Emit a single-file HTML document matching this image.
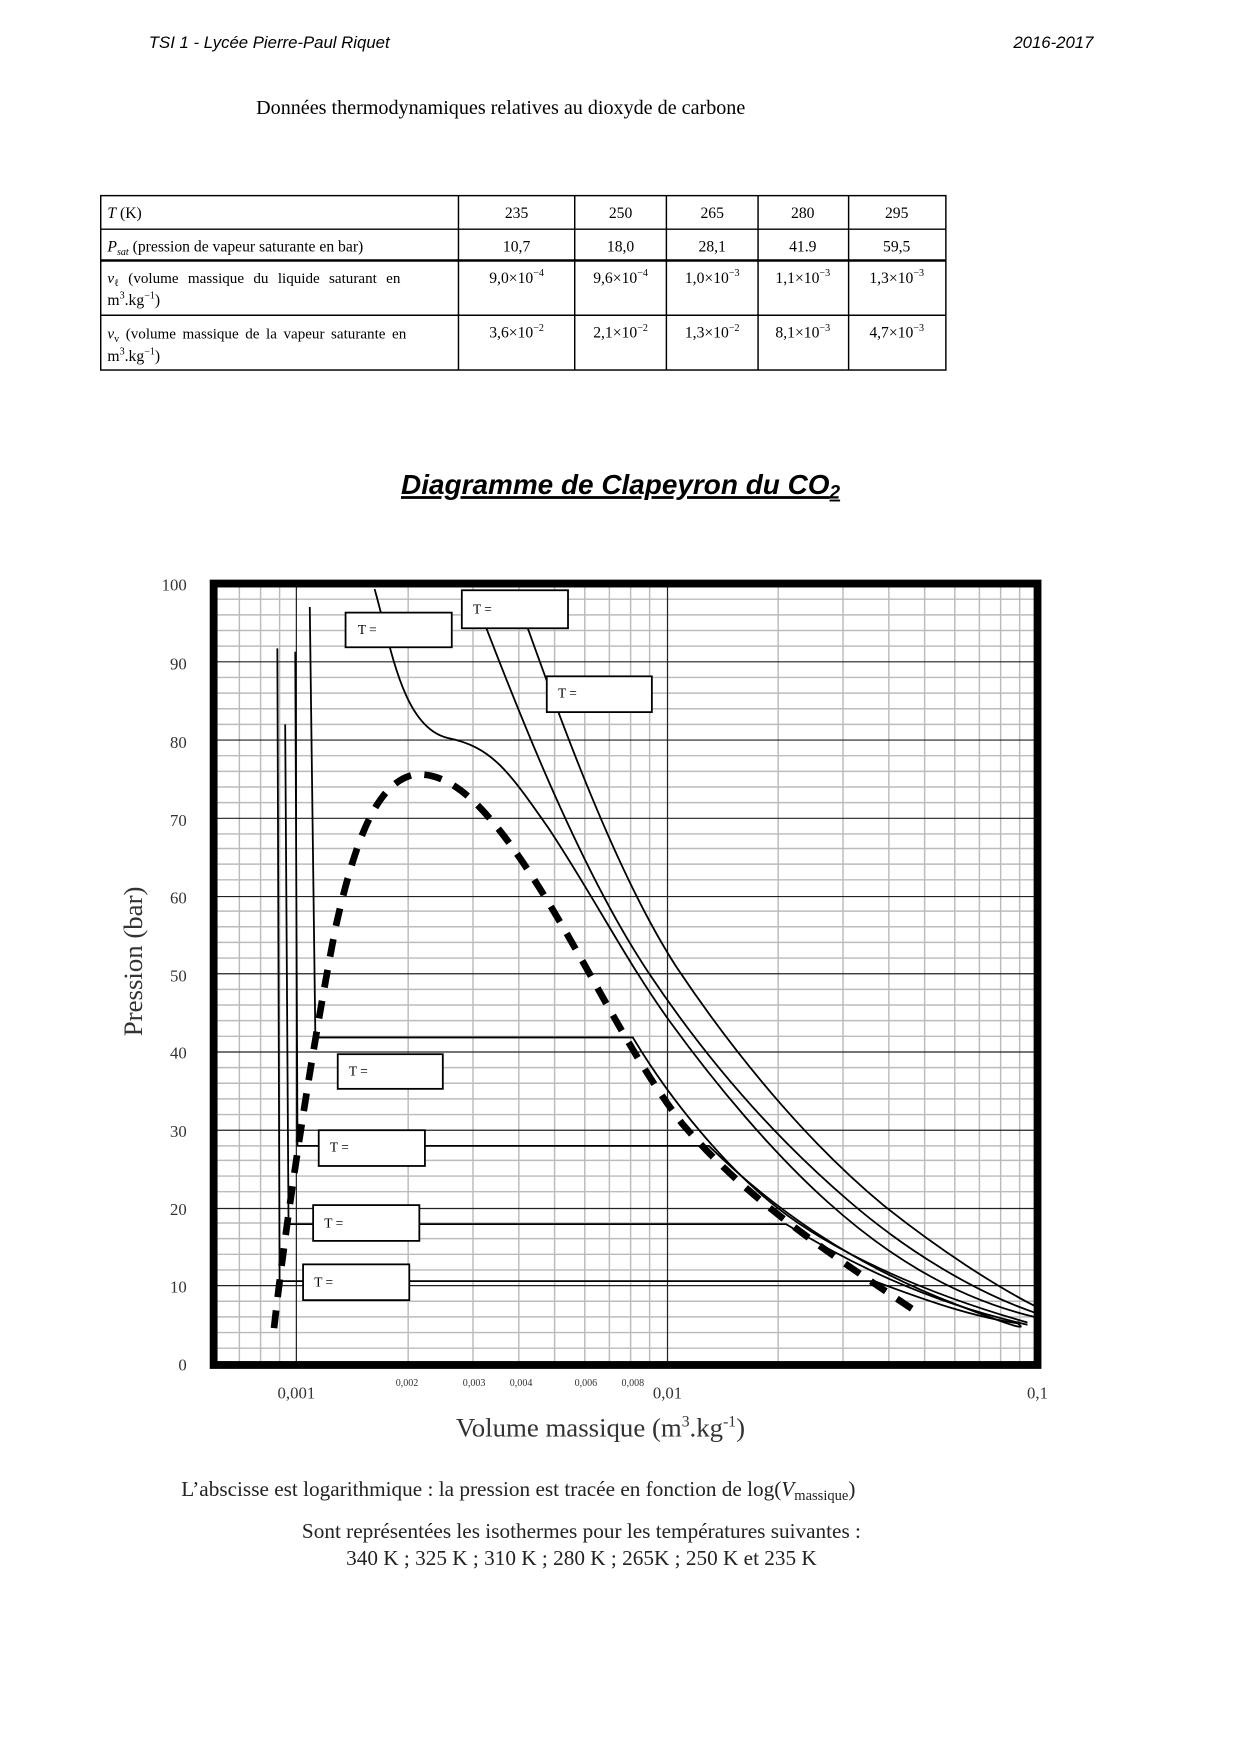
<!DOCTYPE html>
<html><head><meta charset="utf-8"><style>
html,body{margin:0;padding:0;background:#fff}
svg{display:block}
</style></head><body>
<svg width="1240" height="1754" viewBox="0 0 1109 1569" xmlns="http://www.w3.org/2000/svg">
<rect width="1109" height="1569" fill="#fff"/>
<g font-family="Liberation Sans, sans-serif" font-style="italic" font-size="15">
<text x="133" y="43">TSI 1 - Lycée Pierre-Paul Riquet</text>
<text x="978" y="43" text-anchor="end">2016-2017</text>
</g>
<text x="229" y="102" font-family="Liberation Serif, serif" font-size="18">Données thermodynamiques relatives au dioxyde de carbone</text>
<!-- table -->
<g stroke="#000" stroke-width="1.3" fill="none">
<rect x="90" y="175" width="756" height="156"/>
<line x1="90" y1="205" x2="846" y2="205"/>
<line x1="90" y1="233" x2="846" y2="233" stroke-width="2.2"/>
<line x1="90" y1="282" x2="846" y2="282"/>
<line x1="410" y1="175" x2="410" y2="331"/>
<line x1="514" y1="175" x2="514" y2="331"/>
<line x1="596" y1="175" x2="596" y2="331"/>
<line x1="678" y1="175" x2="678" y2="331"/>
<line x1="759" y1="175" x2="759" y2="331"/>
</g>
<g font-family="Liberation Serif, serif" font-size="14">
<text x="96" y="195"><tspan font-style="italic">T</tspan> (K)</text>
<text x="96" y="225"><tspan font-style="italic">P</tspan><tspan font-size="9" font-style="italic" dy="3">sat</tspan><tspan dy="-3"> (pression de vapeur saturante en bar)</tspan></text>
<text x="96" y="253" font-size="13.5" word-spacing="5"><tspan font-style="italic">v</tspan><tspan font-size="9" dy="3">ℓ</tspan><tspan dy="-3"> (volume massique du liquide saturant en</tspan></text>
<text x="96" y="273">m<tspan font-size="9" dy="-6">3</tspan><tspan dy="6">.kg</tspan><tspan font-size="9" dy="-6">−1</tspan><tspan dy="6">)</tspan></text>
<text x="96" y="303" font-size="13.5" word-spacing="2.5"><tspan font-style="italic">v</tspan><tspan font-size="9" dy="3">v</tspan><tspan dy="-3"> (volume massique de la vapeur saturante en</tspan></text>
<text x="96" y="323">m<tspan font-size="9" dy="-6">3</tspan><tspan dy="6">.kg</tspan><tspan font-size="9" dy="-6">−1</tspan><tspan dy="6">)</tspan></text>
<g text-anchor="middle">
<text x="462" y="195">235</text><text x="555" y="195">250</text><text x="637" y="195">265</text><text x="718" y="195">280</text><text x="802" y="195">295</text>
<text x="462" y="225">10,7</text><text x="555" y="225">18,0</text><text x="637" y="225">28,1</text><text x="718" y="225">41.9</text><text x="802" y="225">59,5</text>
<text x="462" y="253">9,0×10<tspan font-size="9" dy="-6">−4</tspan></text>
<text x="555" y="253">9,6×10<tspan font-size="9" dy="-6">−4</tspan></text>
<text x="637" y="253">1,0×10<tspan font-size="9" dy="-6">−3</tspan></text>
<text x="718" y="253">1,1×10<tspan font-size="9" dy="-6">−3</tspan></text>
<text x="802" y="253">1,3×10<tspan font-size="9" dy="-6">−3</tspan></text>
<text x="462" y="302">3,6×10<tspan font-size="9" dy="-6">−2</tspan></text>
<text x="555" y="302">2,1×10<tspan font-size="9" dy="-6">−2</tspan></text>
<text x="637" y="302">1,3×10<tspan font-size="9" dy="-6">−2</tspan></text>
<text x="718" y="302">8,1×10<tspan font-size="9" dy="-6">−3</tspan></text>
<text x="802" y="302">4,7×10<tspan font-size="9" dy="-6">−3</tspan></text>
</g></g>
<!-- title -->
<text x="555" y="442" text-anchor="middle" font-family="Liberation Sans, sans-serif" font-style="italic" font-weight="bold" font-size="25" text-decoration="underline">Diagramme de Clapeyron du CO<tspan font-size="17" dy="4">2</tspan></text>
<!-- grid -->
<g stroke="#bbb" stroke-width="1.3">
<line x1="214" y1="523" x2="214" y2="1220"/><line x1="233" y1="523" x2="233" y2="1220"/><line x1="250" y1="523" x2="250" y2="1220"/>
<line x1="365" y1="523" x2="365" y2="1220"/><line x1="423" y1="523" x2="423" y2="1220"/><line x1="464" y1="523" x2="464" y2="1220"/><line x1="496" y1="523" x2="496" y2="1220"/><line x1="523" y1="523" x2="523" y2="1220"/><line x1="545" y1="523" x2="545" y2="1220"/><line x1="564" y1="523" x2="564" y2="1220"/><line x1="581" y1="523" x2="581" y2="1220"/>
<line x1="696" y1="523" x2="696" y2="1220"/><line x1="754" y1="523" x2="754" y2="1220"/><line x1="795" y1="523" x2="795" y2="1220"/><line x1="827" y1="523" x2="827" y2="1220"/><line x1="854" y1="523" x2="854" y2="1220"/><line x1="876" y1="523" x2="876" y2="1220"/><line x1="895" y1="523" x2="895" y2="1220"/><line x1="912" y1="523" x2="912" y2="1220"/>
<line x1="190" y1="1206" x2="928" y2="1206"/><line x1="190" y1="1192" x2="928" y2="1192"/><line x1="190" y1="1178" x2="928" y2="1178"/><line x1="190" y1="1164" x2="928" y2="1164"/>
<line x1="190" y1="1136" x2="928" y2="1136"/><line x1="190" y1="1122" x2="928" y2="1122"/><line x1="190" y1="1108" x2="928" y2="1108"/><line x1="190" y1="1094" x2="928" y2="1094"/>
<line x1="190" y1="1066" x2="928" y2="1066"/><line x1="190" y1="1052" x2="928" y2="1052"/><line x1="190" y1="1038" x2="928" y2="1038"/><line x1="190" y1="1025" x2="928" y2="1025"/>
<line x1="190" y1="997" x2="928" y2="997"/><line x1="190" y1="983" x2="928" y2="983"/><line x1="190" y1="969" x2="928" y2="969"/><line x1="190" y1="955" x2="928" y2="955"/>
<line x1="190" y1="927" x2="928" y2="927"/><line x1="190" y1="913" x2="928" y2="913"/><line x1="190" y1="899" x2="928" y2="899"/><line x1="190" y1="885" x2="928" y2="885"/>
<line x1="190" y1="857" x2="928" y2="857"/><line x1="190" y1="843" x2="928" y2="843"/><line x1="190" y1="829" x2="928" y2="829"/><line x1="190" y1="815" x2="928" y2="815"/>
<line x1="190" y1="787" x2="928" y2="787"/><line x1="190" y1="773" x2="928" y2="773"/><line x1="190" y1="759" x2="928" y2="759"/><line x1="190" y1="746" x2="928" y2="746"/>
<line x1="190" y1="718" x2="928" y2="718"/><line x1="190" y1="704" x2="928" y2="704"/><line x1="190" y1="690" x2="928" y2="690"/><line x1="190" y1="676" x2="928" y2="676"/>
<line x1="190" y1="648" x2="928" y2="648"/><line x1="190" y1="634" x2="928" y2="634"/><line x1="190" y1="620" x2="928" y2="620"/><line x1="190" y1="606" x2="928" y2="606"/>
<line x1="190" y1="578" x2="928" y2="578"/><line x1="190" y1="564" x2="928" y2="564"/><line x1="190" y1="550" x2="928" y2="550"/><line x1="190" y1="536" x2="928" y2="536"/>
</g>
<g stroke="#222" stroke-width="1.1">
<line x1="265" y1="523" x2="265" y2="1220"/><line x1="597" y1="523" x2="597" y2="1220"/>
<line x1="190" y1="1150" x2="928" y2="1150"/><line x1="190" y1="1081" x2="928" y2="1081"/><line x1="190" y1="1011" x2="928" y2="1011"/><line x1="190" y1="941" x2="928" y2="941"/><line x1="190" y1="871" x2="928" y2="871"/><line x1="190" y1="802" x2="928" y2="802"/><line x1="190" y1="732" x2="928" y2="732"/><line x1="190" y1="662" x2="928" y2="662"/><line x1="190" y1="592" x2="928" y2="592"/>
</g>
<!-- curves -->
<g fill="none" stroke="#000" stroke-width="1.6" stroke-linejoin="round">
<path d="M248,580 L250,1146 L782,1146 C830,1164 870,1178 912,1184"/>
<path d="M255,648 L258,1095 L703,1095 C760,1130 830,1165 919,1185"/>
<path d="M264,583 L266,1025 L634,1025 C690,1080 760,1130 853,1166 S900,1180 912,1183"/>
<path d="M277,543 L282,928 L566,928 C600,985 650,1045 696,1081 S820,1155 919,1183"/>
<path d="M335,527 C350,580 360,650 400,660 C440,668 455,690 490,740 C530,800 560,860 600,915 C640,970 690,1030 740,1075 C790,1120 850,1160 925,1178"/>
<path d="M435,562 C465,640 520,780 580,870 C630,945 690,1015 760,1075 C810,1118 870,1155 925,1174"/>
<path d="M472,562 C500,640 550,780 605,865 C655,940 720,1020 790,1078 C840,1118 890,1150 925,1168"/>
</g>
<path d="M245,1188 C255,1100 275,960 300,830 C320,740 340,700 370,693 C400,690 430,715 470,775 C520,850 560,940 610,1005 C670,1075 740,1120 822,1175" fill="none" stroke="#000" stroke-width="6" stroke-dasharray="16,12"/>
<!-- boxes -->
<g fill="#fff" stroke="#000" stroke-width="1.6">
<rect x="309" y="548" width="95" height="31"/><rect x="413" y="528" width="95" height="34"/><rect x="489" y="605" width="94" height="32"/><rect x="302" y="943" width="94" height="31"/><rect x="285" y="1011" width="95" height="32"/><rect x="280" y="1078" width="95" height="32"/><rect x="271" y="1131" width="95" height="32"/>
</g>
<g font-family="Liberation Serif, serif" font-size="12">
<text x="320" y="567">T =</text><text x="423" y="549">T =</text><text x="499" y="624">T =</text><text x="312" y="962">T =</text><text x="295" y="1030">T =</text><text x="290" y="1098">T =</text><text x="281" y="1151">T =</text>
</g>
<rect x="191" y="522" width="737" height="699" fill="none" stroke="#000" stroke-width="7"/>
<!-- axis labels -->
<g font-family="Liberation Serif, serif" font-size="15" fill="#333" text-anchor="end">
<text x="167" y="528">100</text><text x="167" y="599">90</text><text x="167" y="669">80</text><text x="167" y="739">70</text><text x="167" y="808">60</text><text x="167" y="878">50</text><text x="167" y="947">40</text><text x="167" y="1017">30</text><text x="167" y="1087">20</text><text x="167" y="1156">10</text><text x="167" y="1226">0</text>
</g>
<g font-family="Liberation Serif, serif" text-anchor="middle" fill="#333">
<text x="265" y="1251" font-size="15">0,001</text><text x="597" y="1251" font-size="15">0,01</text><text x="928" y="1251" font-size="15">0,1</text>
<g font-size="9"><text x="364" y="1240">0,002</text><text x="424" y="1240">0,003</text><text x="466" y="1240">0,004</text><text x="524" y="1240">0,006</text><text x="566" y="1240">0,008</text></g>
</g>
<text transform="translate(127,860) rotate(-90)" text-anchor="middle" font-family="Liberation Serif, serif" font-size="24" fill="#333">Pression (bar)</text>
<text x="537" y="1285" text-anchor="middle" font-family="Liberation Serif, serif" font-size="24" fill="#333">Volume massique (m<tspan font-size="14" dy="-9">3</tspan><tspan dy="9">.kg</tspan><tspan font-size="14" dy="-9">-1</tspan><tspan dy="9">)</tspan></text>
<g font-family="Liberation Serif, serif" font-size="19" fill="#222">
<text x="162" y="1338">L’abscisse est logarithmique : la pression est tracée en fonction de log(<tspan font-style="italic">V</tspan><tspan font-size="13" dy="4">massique</tspan><tspan dy="-4">)</tspan></text>
<text x="520" y="1376" text-anchor="middle">Sont représentées les isothermes pour les températures suivantes :</text>
<text x="520" y="1400" text-anchor="middle">340 K ; 325 K ; 310 K ; 280 K ; 265K ; 250 K et 235 K</text>
</g>
</svg>
</body></html>
